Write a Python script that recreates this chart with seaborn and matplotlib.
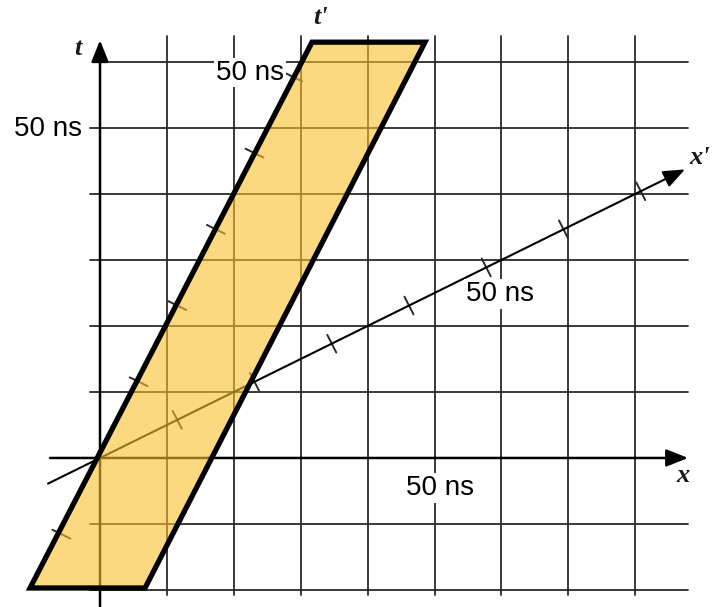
import numpy as np
import pandas as pd
import matplotlib
matplotlib.use("Agg")
import matplotlib.pyplot as plt
import seaborn as sns

# ---------------- data (grid units: 1 unit = 10 ns) ----------------
beta = 0.5                                   # speed of primed frame
grid_x = [1, 2, 3, 4, 5, 6, 7, 8]            # vertical grid lines
grid_t = [-2, -1, 1, 2, 3, 4, 5, 6]          # horizontal grid lines
xprime_ticks = [1, 2, 3, 4, 5, 6, 7]         # ticks along x' axis (10 ns each)
tprime_ticks = [-1, 1, 2, 3, 4, 5]           # ticks along t' axis (10 ns each)
band_x = [-1.046, 0.673, 4.858, 3.169]       # yellow world-tube corners (x)
band_t = [-1.97, -1.97, 6.30, 6.30]          # yellow world-tube corners (t)
label_text = ["50 ns", "50 ns", "50 ns", "50 ns"]
label_x = [-0.78, 2.24, 5.98, 5.08]
label_t = [4.98, 5.84, 2.48, -0.45]

# ---------------- style ----------------
sns.set_theme(style="white")
plt.rcParams["font.family"] = ["Liberation Sans", "DejaVu Sans"]

fig = plt.figure(figsize=(7.13, 6.07), dpi=100)
ax = fig.add_axes([0, 0, 1, 1])
ax.set_xlim(-1.495, 9.163)
ax.set_ylim(-2.258, 6.939)
ax.axis("off")

line_col = "#2a2a2a"
gamma = 1.0 / np.sqrt(1 - beta ** 2)

# grid segments
segs = []
sid = 0
for gx in grid_x:
    segs += [(sid, gx, -2.07), (sid, gx, 6.39)]
    sid += 1
for gt in grid_t:
    x0 = 0.0 if gt == 6 else -0.15
    segs += [(sid, x0, gt), (sid, 8.79, gt)]
    sid += 1
gdf = pd.DataFrame(segs, columns=["seg", "x", "t"])
sns.lineplot(data=gdf, x="x", y="t", units="seg", estimator=None, sort=False,
             color=line_col, lw=1.3, ax=ax, zorder=1, legend=False)

# tick marks on primed axes (perpendicular short strokes)
half = 0.15
tseg = []
sid = 0
ux = np.array([1.0, beta]) / np.hypot(1.0, beta)      # x' direction
ut = np.array([beta, 1.0]) / np.hypot(1.0, beta)      # t' direction
for k in xprime_ticks:
    c = gamma * k * np.array([1.0, beta])
    p = np.array([ux[1], -ux[0]])
    tseg += [(sid, *(c - half * p)), (sid, *(c + half * p))]
    sid += 1
for k in tprime_ticks:
    c = gamma * k * np.array([beta, 1.0])
    p = np.array([ut[1], -ut[0]])
    tseg += [(sid, *(c - half * p)), (sid, *(c + half * p))]
    sid += 1
tdf = pd.DataFrame(tseg, columns=["seg", "x", "t"])
sns.lineplot(data=tdf, x="x", y="t", units="seg", estimator=None, sort=False,
             color=line_col, lw=1.4, ax=ax, zorder=2, legend=False)

# axes with arrows
arrow = dict(arrowstyle="-|>,head_length=0.6,head_width=0.24",
             mutation_scale=22, color="black", lw=1.8, shrinkA=0, shrinkB=0)
ax.annotate("", xy=(0, 6.33), xytext=(0, -2.3), arrowprops=arrow, zorder=2)
ax.annotate("", xy=(8.79, 0), xytext=(-0.747, 0), arrowprops=arrow, zorder=2)
ax.annotate("", xy=(8.744, beta * 8.744), xytext=(-0.777, beta * -0.777),
            arrowprops=dict(arrow, lw=1.5), zorder=2)

# yellow band
ax.fill(band_x, band_t, facecolor="#FBC02D", alpha=0.6, edgecolor="none", zorder=3)
ax.fill(band_x, band_t, facecolor="none", edgecolor="black", lw=3.8,
        joinstyle="miter", zorder=5)

# axis names
serif = dict(family=["Liberation Serif", "DejaVu Serif"], style="italic",
             fontweight="bold", fontsize=19, color="#1a1a1a",
             ha="center", va="center")
ax.text(-0.33, 6.21, "t", **serif)
ax.text(3.30, 6.68, "t'", **serif)
ax.text(8.96, 4.55, "x'", **serif)
ax.text(8.72, -0.27, "x", **serif)

# 50 ns labels
for s, lx, lt in zip(label_text, label_x, label_t):
    ax.text(lx, lt, s, fontsize=20, color="black", ha="center", va="center",
            zorder=4, bbox=dict(facecolor="white", edgecolor="none", pad=1.5))

fig.savefig("out.png", dpi=100)
